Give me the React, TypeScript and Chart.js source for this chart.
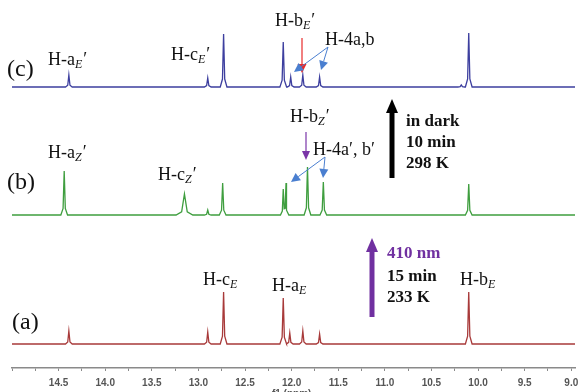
import React, { useEffect, useRef } from "react";
import { Chart, registerables } from "chart.js";

Chart.register(...registerables);

// x range (ppm), reversed axis
const X_MAX = 15.0;
const X_MIN = 8.96;

// Trace (a) red – E isomer, 233 K
const ppmA = [14.39, 12.9, 12.73, 12.09, 12.02, 11.88, 11.7, 10.1];
const heightA = [13, 12, 52, 46, 11, 13, 10, 52];
const widthA = [0.012, 0.012, 0.012, 0.012, 0.012, 0.012, 0.012, 0.012];

// Trace (b) green – after 410 nm
const ppmB = [14.44, 13.15, 12.9, 12.74, 12.09, 12.06, 11.83, 11.66, 10.1];
const heightB = [44, 21, 5, 32, 26, 32, 48, 33, 31];
const widthB = [0.012, 0.03, 0.012, 0.012, 0.01, 0.01, 0.012, 0.012, 0.012];

// Trace (c) blue – in dark, 298 K
const ppmC = [14.39, 12.9, 12.73, 12.09, 12.01, 11.88, 11.7, 10.18, 10.1];
const heightC = [12, 9, 53, 45, 10, 12, 10, 2, 54];
const widthC = [0.012, 0.012, 0.012, 0.012, 0.012, 0.012, 0.012, 0.012, 0.012];

// vertical offsets of each trace
const offsetA = 24;
const offsetB = 153;
const offsetC = 281;

function kernel(d: number, h: number, hw: number) {
  const a = Math.abs(d);
  if (a <= hw) return h * (1 - 0.85 * (a / hw));
  if (a <= 3 * hw) return 0.15 * h * ((3 * hw - a) / (2 * hw));
  return 0;
}

function buildTrace(base: number, ppm: number[], height: number[], width: number[]) {
  const xs: number[] = [X_MAX, X_MIN];
  ppm.forEach((p, i) => {
    const hw = width[i];
    xs.push(p + 3 * hw, p + hw, p, p - hw, p - 3 * hw);
  });
  xs.sort((a, b) => b - a);
  return xs.map((x) => {
    let y = base;
    ppm.forEach((p, i) => {
      y += kernel(x - p, height[i], width[i]);
    });
    return { x, y };
  });
}

const SERIF = '"Liberation Serif", "Times New Roman", serif';

function subLabel(ctx: CanvasRenderingContext2D, x: number, y: number, main: string, sub: string, prime: boolean) {
  ctx.font = `18px ${SERIF}`;
  ctx.textBaseline = "alphabetic";
  ctx.textAlign = "left";
  ctx.fillText(main, x, y);
  let w = ctx.measureText(main).width;
  ctx.font = `italic 12px ${SERIF}`;
  ctx.fillText(sub, x + w, y + 3);
  w += ctx.measureText(sub).width;
  if (prime) {
    ctx.font = `18px ${SERIF}`;
    ctx.fillText("\u2032", x + w + 1, y);
  }
}

function arrow(ctx: CanvasRenderingContext2D, x1: number, y1: number, x2: number, y2: number, color: string, lw: number, headLen: number, headW: number) {
  const ang = Math.atan2(y2 - y1, x2 - x1);
  const bx = x2 - headLen * Math.cos(ang);
  const by = y2 - headLen * Math.sin(ang);
  ctx.strokeStyle = color;
  ctx.fillStyle = color;
  ctx.lineWidth = lw;
  ctx.beginPath();
  ctx.moveTo(x1, y1);
  ctx.lineTo(bx, by);
  ctx.stroke();
  const px = -Math.sin(ang) * headW / 2;
  const py = Math.cos(ang) * headW / 2;
  ctx.beginPath();
  ctx.moveTo(x2, y2);
  ctx.lineTo(bx + px, by + py);
  ctx.lineTo(bx - px, by - py);
  ctx.closePath();
  ctx.fill();
}

const annotations = {
  id: "annotations",
  afterDraw(chart: any) {
    const ctx: CanvasRenderingContext2D = chart.ctx;
    ctx.save();
    ctx.fillStyle = "#111";
    // panel letters
    ctx.font = `24px ${SERIF}`;
    ctx.textBaseline = "middle";
    ctx.textAlign = "left";
    ctx.fillText("(c)", 7, 70);
    ctx.fillText("(b)", 7, 183);
    ctx.fillText("(a)", 12, 323);

    ctx.fillStyle = "#111";
    subLabel(ctx, 48, 65, "H-a", "E", true);
    subLabel(ctx, 171, 60, "H-c", "E", true);
    subLabel(ctx, 275, 26, "H-b", "E", true);
    ctx.fillStyle = "#111";
    ctx.font = `18px ${SERIF}`;
    ctx.fillText("H-4a,b", 325, 45);

    subLabel(ctx, 48, 158, "H-a", "Z", true);
    subLabel(ctx, 158, 180, "H-c", "Z", true);
    subLabel(ctx, 290, 122, "H-b", "Z", true);
    ctx.font = `18px ${SERIF}`;
    ctx.fillText("H-4a\u2032, b\u2032", 313, 155);

    subLabel(ctx, 203, 285, "H-c", "E", false);
    subLabel(ctx, 272, 291, "H-a", "E", false);
    subLabel(ctx, 460, 285, "H-b", "E", false);

    // small arrows
    arrow(ctx, 302, 38, 302, 73, "#e82a2a", 1.2, 9, 9);
    arrow(ctx, 328, 47, 294, 72, "#4a7fd0", 1, 9, 9);
    arrow(ctx, 328, 47, 321, 70, "#4a7fd0", 1, 9, 9);
    arrow(ctx, 306, 132, 306, 160, "#7a35a8", 1.2, 9, 8);
    arrow(ctx, 325, 157, 291, 182, "#4a7fd0", 1, 9, 9);
    arrow(ctx, 325, 157, 323, 178, "#4a7fd0", 1, 9, 9);

    // big arrows
    arrow(ctx, 392, 178, 392, 99, "#000", 5, 14, 12);
    arrow(ctx, 372, 317, 372, 238, "#7030a0", 5, 14, 12);

    // condition texts
    ctx.textBaseline = "middle";
    ctx.font = `bold 17px ${SERIF}`;
    ctx.fillStyle = "#111";
    ctx.fillText("in dark", 406, 122);
    ctx.fillText("10 min", 406, 143);
    ctx.fillText("298 K", 406, 164);
    ctx.fillStyle = "#7030a0";
    ctx.fillText("410 nm", 387, 254);
    ctx.fillStyle = "#111";
    ctx.fillText("15 min", 387, 277);
    ctx.fillText("233 K", 387, 298);

    // axis title
    const xs = chart.scales.x;
    ctx.fillStyle = "#555";
    ctx.font = 'bold 10px "Liberation Sans", Arial, sans-serif';
    ctx.textAlign = "center";
    ctx.textBaseline = "top";
    ctx.fillText("f1 (ppm)", xs.getPixelForValue(12.0), 389);
    ctx.restore();
  },
};

export default function App() {
  const ref = useRef<HTMLCanvasElement | null>(null);
  useEffect(() => {
    if (!ref.current) return;
    const chart = new Chart(ref.current, {
      type: "line",
      data: {
        datasets: [
          { data: buildTrace(offsetC, ppmC, heightC, widthC), borderColor: "#3d3f9f", borderWidth: 1.3 },
          { data: buildTrace(offsetB, ppmB, heightB, widthB), borderColor: "#3f9e3f", borderWidth: 1.3 },
          { data: buildTrace(offsetA, ppmA, heightA, widthA), borderColor: "#a83a3a", borderWidth: 1.3 },
        ] as any,
      },
      options: {
        animation: false,
        responsive: false,
        devicePixelRatio: 1,
        parsing: false as any,
        elements: { point: { radius: 0 }, line: { tension: 0 } },
        layout: { padding: { left: 12, right: 3, top: 0, bottom: 0 } },
        plugins: { legend: { display: false }, tooltip: { enabled: false } },
        scales: {
          x: {
            type: "linear",
            reverse: true,
            min: X_MIN,
            max: X_MAX,
            afterFit: (s: any) => {
              s.height = 24;
              s.paddingLeft = 0;
              s.paddingRight = 0;
            },
            border: { display: true, color: "#8a8a8a", width: 1.5 },
            grid: { drawOnChartArea: false, drawTicks: true, tickLength: 3, color: "#8a8a8a" },
            ticks: {
              stepSize: 0.25,
              includeBounds: false,
              autoSkip: false,
              maxRotation: 0,
              padding: 6,
              color: "#555",
              font: { family: '"Liberation Sans", Arial, sans-serif', size: 10, weight: "bold" },
              callback: (v: any) => {
                const n = Number(v);
                if (n >= 14.99) return "";
                return Math.abs(n * 2 - Math.round(n * 2)) < 1e-6 ? n.toFixed(1) : "";
              },
            },
          } as any,
          y: { type: "linear", display: false, min: 0, max: 368 },
        },
      },
      plugins: [annotations],
    });
    return () => chart.destroy();
  }, []);
  return (
    <div style={{ position: "fixed", left: 0, top: 0, width: 578, height: 392, background: "#fff" }}>
      <canvas ref={ref} width={578} height={392} />
    </div>
  );
}
